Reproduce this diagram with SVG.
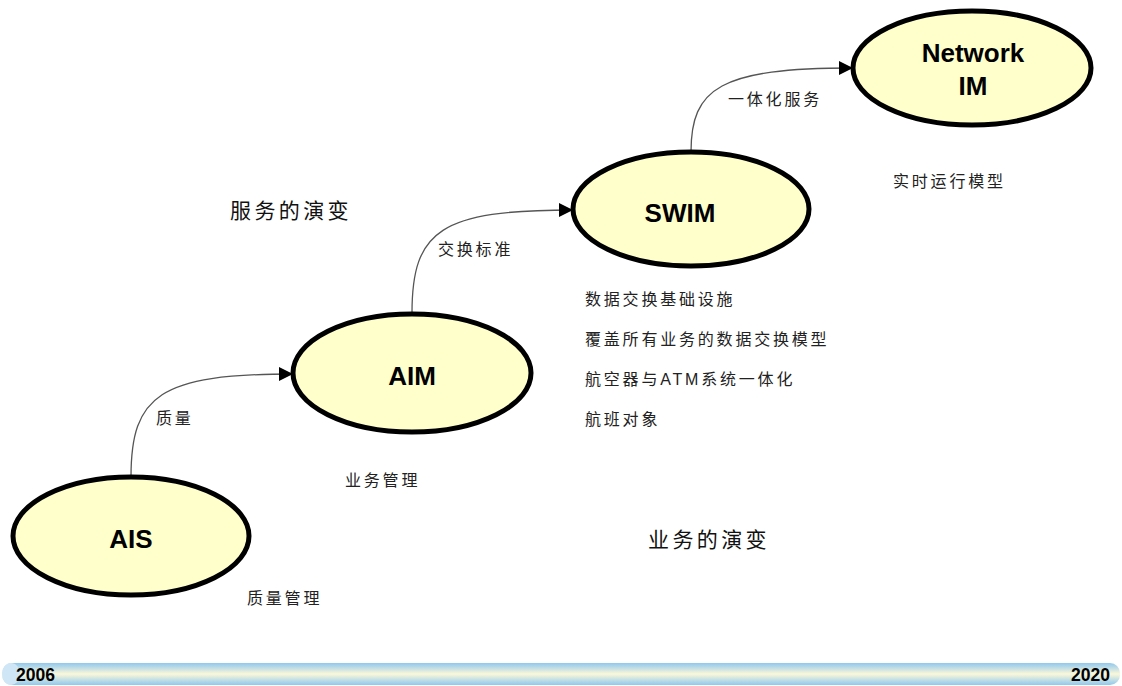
<svg xmlns="http://www.w3.org/2000/svg" width="1122" height="686" viewBox="0 0 1122 686">
<style>
.node ellipse{fill:#ffffcc;stroke:#000;stroke-width:5}
.nl{font-family:"Liberation Sans",Arial,sans-serif;font-weight:bold;font-size:26px;fill:#000;text-anchor:middle}
.cn{font-family:"Liberation Sans","Noto Sans CJK SC",sans-serif;font-size:16px;letter-spacing:2.8px;fill:#222}
.big{font-family:"Liberation Sans","Noto Sans CJK SC",sans-serif;font-size:21px;letter-spacing:3.4px;fill:#111}
.conn path{fill:none;stroke:#555;stroke-width:1.3}
.yr{font-family:"Liberation Sans",Arial,sans-serif;font-weight:bold;font-size:19px;fill:#000}
</style>
<defs>
<marker id="arr" viewBox="0 0 10 10" refX="10" refY="5" markerWidth="18" markerHeight="14" markerUnits="userSpaceOnUse" orient="auto">
<path d="M0,0 L10,5 L0,10 z" fill="#000"/>
</marker>
<linearGradient id="bar" x1="0" y1="0" x2="0" y2="1">
<stop offset="0" stop-color="#8fc8ee"/>
<stop offset="0.5" stop-color="#fbf8da"/>
<stop offset="1" stop-color="#8fc8ee"/>
</linearGradient>
</defs>
<rect width="1122" height="686" fill="#fff"/>
<g id="timeline">
<rect x="2" y="663" width="1118" height="22" rx="10" fill="url(#bar)"/>
<ellipse cx="11" cy="674" rx="9" ry="11" fill="#cfe6f7"/>
<text class="yr" x="16" y="681" textLength="39" lengthAdjust="spacingAndGlyphs">2006</text>
<text class="yr" x="1071" y="681" textLength="39" lengthAdjust="spacingAndGlyphs">2020</text>
</g>
<g class="conn" id="connectors">
<path d="M131,477 C131,395 160,374 293,374" marker-end="url(#arr)"/>
<path d="M412,313 C412,230 441,210 573,210" marker-end="url(#arr)"/>
<path d="M691,152 C691,88 720,68 853,68" marker-end="url(#arr)"/>
<text class="cn" x="156" y="424">质量</text>
<text class="cn" x="438" y="255">交换标准</text>
<text class="cn" x="728" y="105">一体化服务</text>
</g>
<g class="node" id="ais">
<ellipse cx="131" cy="536" rx="118" ry="59"/>
<text class="nl" x="131" y="548">AIS</text>
</g>
<g class="node" id="aim">
<ellipse cx="412" cy="373" rx="119" ry="59"/>
<text class="nl" x="412" y="385">AIM</text>
</g>
<g class="node" id="swim">
<ellipse cx="691" cy="209" rx="118" ry="57"/>
<text class="nl" x="680" y="222">SWIM</text>
</g>
<g class="node" id="networkim">
<ellipse cx="972" cy="68" rx="119" ry="57"/>
<text class="nl" x="973" y="62">Network</text>
<text class="nl" x="973" y="95">IM</text>
</g>
<g id="notes">
<text class="big" x="230" y="218">服务的演变</text>
<text class="big" x="648" y="547">业务的演变</text>
<text class="cn" x="345" y="486">业务管理</text>
<text class="cn" x="247" y="604">质量管理</text>
<text class="cn" x="893" y="187">实时运行模型</text>
<text class="cn" x="585" y="305">数据交换基础设施</text>
<text class="cn" x="585" y="345">覆盖所有业务的数据交换模型</text>
<text class="cn" x="585" y="385">航空器与ATM系统一体化</text>
<text class="cn" x="585" y="425">航班对象</text>
</g>
</svg>
